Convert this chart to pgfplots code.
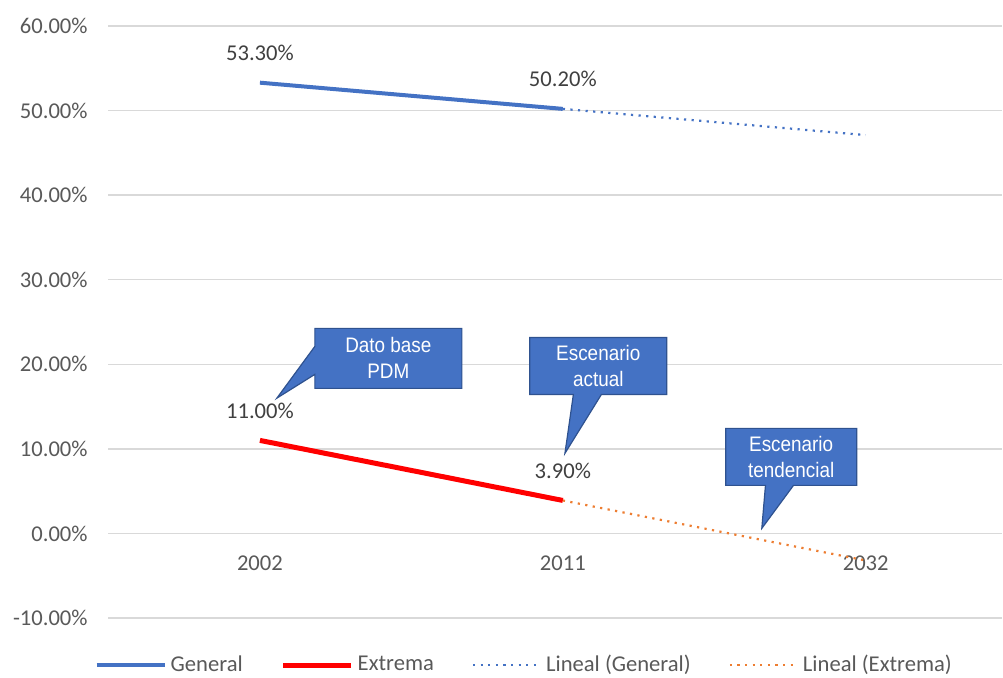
\documentclass[border=0pt]{standalone}
\usepackage{fontspec}
\setmainfont{Carlito}
\newfontfamily\arialfont[FakeStretch=0.9]{Liberation Sans}
\usepackage{pgfplots}
\pgfplotsset{compat=1.18}
\usetikzlibrary{shapes.callouts}
\definecolor{gblue}{HTML}{4472C4}
\definecolor{cborder}{HTML}{2F528F}
\definecolor{gorange}{HTML}{ED7D31}
\definecolor{gridc}{HTML}{D9D9D9}
\definecolor{ticktext}{HTML}{595959}
\definecolor{labtext}{HTML}{404040}
\begin{document}
\begin{tikzpicture}
\begin{axis}[
  at={(0,0)}, anchor=south west, scale only axis,
  width=446.75pt, height=296pt,
  xmin=-0.5, xmax=2.45, ymin=-10, ymax=60,
  axis x line=middle, axis y line=left,
  hide obscured x ticks=false, hide obscured y ticks=false,
  x axis line style={draw=gridc, line width=0.8pt, -},
  y axis line style={draw=none, -},
  xtick={0,1,2}, xticklabels={2002,2011,2032},
  ytick={-10,0,10,20,30,40,50,60},
  major tick length=0pt,
  ymajorgrids, grid style={draw=gridc, line width=0.7pt},
  /pgf/number format/assume math mode=true,
  yticklabel={\pgfmathprintnumber[fixed,fixed zerofill,precision=2]{\tick}\%},
  yticklabel style={anchor=east, inner sep=0pt, xshift=-10.25pt, text=ticktext, font=\fontsize{11.3}{13.6}\selectfont},
  xticklabel style={anchor=center, yshift=-15pt, text=ticktext, font=\fontsize{11.3}{13.6}\selectfont},
  legend style={at={(0.5,0)}, anchor=center, yshift=-23.5pt, xshift=-15pt, draw=none, fill=none,
    legend columns=4, font=\fontsize{11.3}{13.6}\selectfont, text=ticktext,
    /tikz/every even column/.append style={column sep=17pt}},
  legend image code/.code={\draw[#1] (0pt,0pt) -- (34pt,0pt);},
  clip=false,
]
\addplot[gblue, line width=2pt,
  nodes near coords={\pgfmathprintnumber[fixed,fixed zerofill,precision=2]{\pgfplotspointmeta}\%},
  nodes near coords style={anchor=center, yshift=15pt, text=labtext, font=\fontsize{11.3}{13.6}\selectfont}]
  coordinates {(0,53.3) (1,50.2)};
\addlegendentry{General}
\addplot[red, line width=2.5pt,
  nodes near coords={\pgfmathprintnumber[fixed,fixed zerofill,precision=2]{\pgfplotspointmeta}\%},
  nodes near coords style={anchor=center, yshift=15pt, text=labtext, font=\fontsize{11.3}{13.6}\selectfont}]
  coordinates {(0,11.0) (1,3.9)};
\addlegendentry{Extrema}
\addplot[gblue, line width=1.1pt, dash pattern=on 1.1pt off 2.7pt]
  coordinates {(1,50.2) (2,47.1)};
\addlegendentry{Lineal (General)}
\addplot[gorange, line width=1.1pt, dash pattern=on 1.1pt off 2.7pt]
  coordinates {(1,3.9) (2,-3.2)};
\addlegendentry{Lineal (Extrema)}
\coordinate (t1) at (axis cs:0.056,16.0);
\coordinate (b1) at (axis cs:0.424,20.7);
\coordinate (t2) at (axis cs:1.007,9.47);
\coordinate (b2) at (axis cs:1.117,19.8);
\coordinate (t3) at (axis cs:1.657,0.6);
\coordinate (b3) at (axis cs:1.754,9.05);
\end{axis}
\tikzset{cbox/.style={rectangle callout, fill=gblue, draw=cborder, line width=0.6pt,
  inner sep=1pt, align=center, text=white, callout pointer width=14pt,
  font=\arialfont\fontsize{10.5}{13}\selectfont}}
\node[cbox, minimum width=73.5pt, minimum height=30pt, callout absolute pointer={(t1)}] at (b1) {Dato base\\PDM};
\node[cbox, minimum width=68.5pt, minimum height=28.5pt, callout absolute pointer={(t2)}] at (b2) {Escenario\\actual};
\node[cbox, minimum width=65.5pt, minimum height=28.5pt, callout absolute pointer={(t3)}] at (b3) {Escenario\\tendencial};
\pgfresetboundingbox
\path (-54.25pt,-29.5pt) rectangle (447.25pt,309pt);
\end{tikzpicture}
\end{document}
